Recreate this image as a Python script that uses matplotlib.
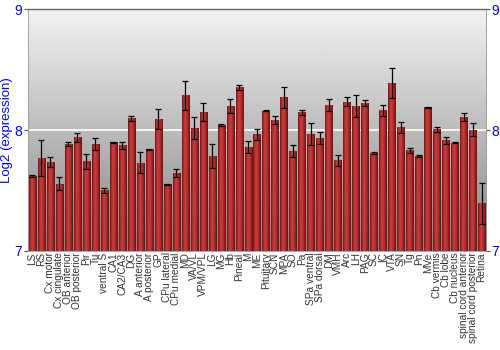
import matplotlib
matplotlib.use("Agg")
import matplotlib.pyplot as plt
import numpy as np

# tissues (x axis)
tissues = ["LS", "RS", "Cx motor", "Cx cingulate", "OB anterior", "OB posterior", "Pir", "Tu",
           "ventral S", "CA1", "CA2/CA3", "DG", "A anterior", "A posterior", "GP", "CPu lateral",
           "CPu medial", "MD", "VA/VL", "VPM/VPL", "LG", "MG", "Hb", "Pineal", "M", "ME",
           "Pituitary", "SCN", "MPA", "SO", "Pa", "SPa ventral", "SPa dorsal", "DM", "VMH", "Arc",
           "LH", "PAG", "SC", "IC", "VTA", "SN", "Tg", "Pn", "MVe", "Cb vermis", "Cb lobe",
           "Cb nucleus", "spinal cord anterior", "spinal cord posterior", "Retina"]

# log2 expression means
expr = [7.62, 7.77, 7.735, 7.555, 7.885, 7.94, 7.74, 7.885,
        7.50, 7.90, 7.875, 8.097, 7.73, 7.84, 8.09, 7.55,
        7.644, 8.287, 8.017, 8.146, 7.785, 8.041, 8.196, 8.354, 7.862, 7.964,
        8.16, 8.083, 8.27, 7.83, 8.146, 7.967, 7.934, 8.207, 7.75, 8.235,
        8.199, 8.221, 7.81, 8.163, 8.39, 8.022, 7.834, 7.787, 8.188, 8.006, 7.914,
        7.895, 8.108, 8.003, 7.395]

# error bar half widths
err = [0.01, 0.15, 0.04, 0.055, 0.02, 0.035, 0.06, 0.05,
       0.02, 0.005, 0.03, 0.02, 0.085, 0.005, 0.08, 0.003,
       0.033, 0.12, 0.088, 0.075, 0.1, 0.005, 0.058, 0.02, 0.05, 0.043,
       0.006, 0.03, 0.088, 0.05, 0.023, 0.09, 0.048, 0.047, 0.044, 0.035,
       0.09, 0.025, 0.01, 0.047, 0.125, 0.047, 0.02, 0.008, 0.003, 0.02, 0.027,
       0.003, 0.036, 0.055, 0.17]

yticks = [7, 8, 9]

plt.rcParams['font.family'] = ['Liberation Sans', 'DejaVu Sans']

fig = plt.figure(figsize=(5, 3.5), dpi=100)
ax = fig.add_axes([0.056, 0.283, 0.916, 0.691])

x = np.arange(len(tissues))

# gray gradient background
bg = np.linspace(0.52, 0.95, 256).reshape(-1, 1)
ax.imshow(bg, cmap='gray', vmin=0, vmax=1, extent=[0, 1, 0, 1], transform=ax.transAxes,
          aspect='auto', origin='lower', zorder=0)
ax.axhline(8, color='white', lw=1.2, zorder=1)

bars = ax.bar(x, np.array(expr) - 7, bottom=7, width=0.78, color='#a52a2a',
              edgecolor='none', zorder=2)

# horizontal shading inside each bar
cols = np.array([[0.45, 0.08, 0.08], [0.70, 0.18, 0.18], [0.78, 0.25, 0.25],
                 [0.72, 0.20, 0.20], [0.60, 0.13, 0.13], [0.42, 0.07, 0.07]])
grad = np.interp(np.linspace(0, 5, 40), np.arange(6), np.arange(6))
shade = np.array([[np.interp(g, np.arange(6), cols[:, c]) for c in range(3)] for g in grad])
shade = shade.reshape(1, -1, 3)
for b in bars:
    x0, y0 = b.get_x(), b.get_y()
    im = ax.imshow(shade, extent=[x0, x0 + b.get_width(), y0, y0 + b.get_height()],
                   aspect='auto', zorder=3)
    im.set_clip_path(b)

ax.errorbar(x, expr, yerr=err, fmt='none', ecolor='black', elinewidth=0.9,
            capsize=2, capthick=0.9, zorder=4)

ax.set_xlim(-0.5, len(tissues) - 0.5)
ax.set_ylim(7, 9)
ax.set_yticks(yticks)
ax.set_yticklabels([str(t) for t in yticks])
ax.set_xticks(x)
ax.set_xticklabels(tissues, rotation=90, fontsize=7.3, color='#333333')
ax.tick_params(axis='x', length=0, pad=1)
ax.tick_params(axis='y', which='both', left=True, right=True, labelleft=True, labelright=True,
               direction='out', length=3, colors='#555555', labelcolor='blue', labelsize=10,
               pad=1)
ax.set_ylabel('Log2 (expression)', color='blue', fontsize=9.5, labelpad=1)

for s in ['left', 'right', 'bottom']:
    ax.spines[s].set_color('#999999')
    ax.spines[s].set_linewidth(0.6)
ax.spines['top'].set_color('#666666')
ax.spines['top'].set_linewidth(1.0)

fig.savefig('out.png', dpi=100)
